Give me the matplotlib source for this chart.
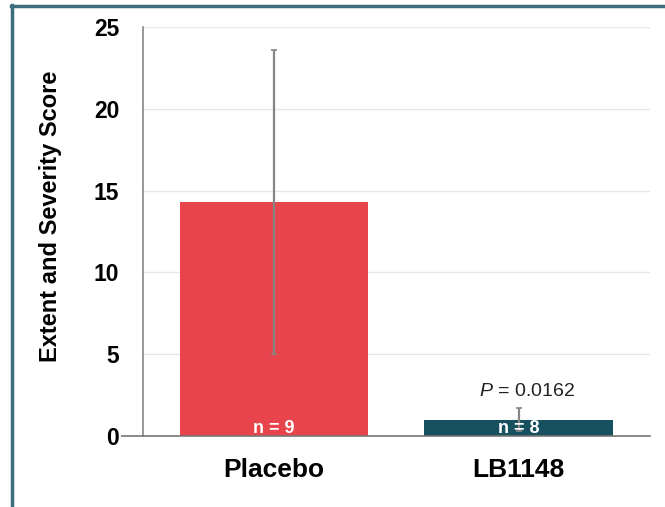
import matplotlib
matplotlib.use("Agg")
import matplotlib.pyplot as plt
from matplotlib.lines import Line2D

categories = ["Placebo", "LB1148"]
means = [14.3, 1.0]
errors = [9.3, 0.7]
n_labels = ["n = 9", "n = 8"]
p_text = "$P$ = 0.0162"
y_ticks = [0, 5, 10, 15, 20, 25]
bar_colors = ["#E8444C", "#17505E"]

plt.rcParams['font.family'] = ['Liberation Sans', 'DejaVu Sans']
plt.rcParams['mathtext.fontset'] = 'custom'
plt.rcParams['mathtext.it'] = 'Liberation Sans:italic'
plt.rcParams['mathtext.rm'] = 'Liberation Sans'

fig = plt.figure(figsize=(6.65, 5.07), dpi=100)
fig.patch.set_facecolor("white")
ax = fig.add_axes([0.215, 0.140, 0.762, 0.807])

x = list(range(len(categories)))
ax.bar(x, means, width=0.77, color=bar_colors, zorder=2)
ax.errorbar(x, means, yerr=errors, fmt='none', ecolor="#858585",
            elinewidth=1.6, capsize=2, capthick=1.2, zorder=3)

for xi, lab in zip(x, n_labels):
    ax.text(xi, 0.18, lab, color="white", fontsize=13, fontweight='bold',
            ha='center', va='baseline', zorder=4)

ax.text(1.035, means[1] + errors[1] + 1.05, p_text, fontsize=14, ha='center', va='center',
        color="#222222")

ax.set_xlim(-0.537, 1.537)
ax.set_ylim(0, 25)
ax.set_yticks(y_ticks)
ax.set_yticklabels([str(t) for t in y_ticks], fontsize=16.5, fontweight='bold')
ax.set_xticks(x)
ax.set_xticklabels(categories, fontsize=19, fontweight='bold')
ax.tick_params(axis='x', length=0, pad=16)
ax.tick_params(axis='y', length=16, pad=1, color="#777777", width=1.2)
for i, t in enumerate(ax.yaxis.get_major_ticks()):
    if i != 0:
        t.tick1line.set_visible(False)

ax.grid(axis='y', color="#E6E6E6", linewidth=1.0, zorder=0)
ax.set_axisbelow(True)
for s in ['top', 'right']:
    ax.spines[s].set_visible(False)
ax.spines['left'].set_color("#888888")
ax.spines['bottom'].set_color("#777777")
ax.spines['left'].set_linewidth(1.2)
ax.spines['bottom'].set_linewidth(1.2)

ax.set_ylabel("Extent and Severity Score", fontsize=17, fontweight='bold')
ax.yaxis.set_label_coords(-0.160, 0.538)

# frame lines (left and top)
fig.add_artist(Line2D([12/665, 12/665], [0, 1 - 5/507], color="#3E6E7E", linewidth=2.5,
                      transform=fig.transFigure))
fig.add_artist(Line2D([11/665, 1], [1 - 6/507, 1 - 6/507], color="#3E6E7E", linewidth=2.5,
                      transform=fig.transFigure))

fig.savefig("out.png", dpi=100)
